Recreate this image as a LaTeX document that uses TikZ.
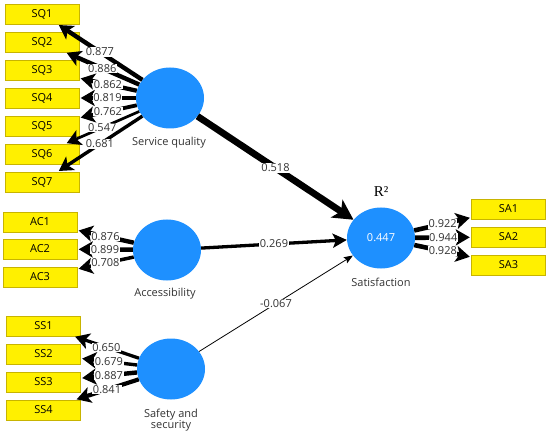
\documentclass[tikz,border=0pt]{standalone}
\usepackage{fontspec}
\setmainfont{Open Sans}
\newfontfamily\rfont{Liberation Serif}
\usetikzlibrary{arrows.meta,shapes.geometric}
\definecolor{boxy}{RGB}{255,240,0}
\definecolor{boxb}{RGB}{200,180,0}
\definecolor{lvc}{RGB}{30,144,255}
\definecolor{txt}{RGB}{50,50,50}
\begin{document}
\begin{tikzpicture}[x=1pt,y=-1pt,
  ind/.style={draw=boxb,fill=boxy,minimum width=74pt,minimum height=20pt,inner sep=0pt,font=\fontsize{11}{12}\selectfont},
  lat/.style={ellipse,fill=lvc,draw=none,minimum width=68pt,minimum height=61pt,inner sep=0pt},
  lab/.style={font=\fontsize{11}{12}\selectfont,text=txt,align=center},
  wl/.style={fill=white,inner sep=0.6pt,font=\fontsize{11}{12}\selectfont,text=txt},
  ar/.style={-{Stealth[length=14pt,width=16pt,inset=3.5pt]},line width=#1,shorten >=1.5pt}
]
\useasboundingbox (0,0) rectangle (550,436);
% indicators
\node[ind] (SQ1) at (42,14) {SQ1};
\node[ind] (SQ2) at (42,42) {SQ2};
\node[ind] (SQ3) at (42,70) {SQ3};
\node[ind] (SQ4) at (42,98) {SQ4};
\node[ind] (SQ5) at (42,126) {SQ5};
\node[ind] (SQ6) at (42,154) {SQ6};
\node[ind] (SQ7) at (42,182) {SQ7};
\node[ind] (AC1) at (40,222) {AC1};
\node[ind] (AC2) at (40,249) {AC2};
\node[ind] (AC3) at (40,277) {AC3};
\node[ind] (SS1) at (43.5,326) {SS1};
\node[ind] (SS2) at (43.5,354) {SS2};
\node[ind] (SS3) at (43.5,382) {SS3};
\node[ind] (SS4) at (43.5,410) {SS4};
\node[ind] (SA1) at (508.5,209) {SA1};
\node[ind] (SA2) at (508.5,237) {SA2};
\node[ind] (SA3) at (508.5,265) {SA3};
% latent variables
\node[lat] (sq) at (170,98) {};
\node[lat] (ac) at (167,250) {};
\node[lat] (ss) at (171,369) {};
\node[lat] (sat) at (381,238) {};
\node[lab] (sqL) at (169,143) {Service quality};
\node[lab] (acL) at (165,294) {Accessibility};
\node[lab] (ssL) at (171,420) {Safety and\\[-1pt]security};
\node[lab] (satL) at (381,282) {Satisfaction};
\node[font=\rfont\fontsize{15}{16}\selectfont] (r2) at (381,192) {R²};
\node[font=\fontsize{11}{12}\selectfont,text=white] (satv) at (sat) {0.447};
% outer loadings
\draw[ar=4.4pt] (sq) -- node[wl]{0.877} (SQ1);
\draw[ar=4.4pt] (sq) -- node[wl]{0.886} (SQ2);
\draw[ar=4.3pt] (sq) -- node[wl]{0.862} (SQ3);
\draw[ar=4.1pt] (sq) -- node[wl]{0.819} (SQ4);
\draw[ar=3.8pt] (sq) -- node[wl]{0.762} (SQ5);
\draw[ar=2.7pt] (sq) -- node[wl]{0.547} (SQ6);
\draw[ar=3.4pt] (sq) -- node[wl]{0.681} (SQ7);
\draw[ar=4.4pt] (ac) -- node[wl]{0.876} (AC1);
\draw[ar=4.5pt] (ac) -- node[wl]{0.899} (AC2);
\draw[ar=3.5pt] (ac) -- node[wl]{0.708} (AC3);
\draw[ar=3.3pt] (ss) -- node[wl]{0.650} (SS1);
\draw[ar=3.4pt] (ss) -- node[wl]{0.679} (SS2);
\draw[ar=4.4pt] (ss) -- node[wl]{0.887} (SS3);
\draw[ar=4.2pt] (ss) -- node[wl]{0.841} (SS4);
\draw[ar=4.6pt] (sat) -- node[wl]{0.922} (SA1);
\draw[ar=4.7pt] (sat) -- node[wl]{0.944} (SA2);
\draw[ar=4.6pt] (sat) -- node[wl]{0.928} (SA3);
% paths
\draw[-{Stealth[length=20pt,width=21pt,inset=5pt]},line width=6.7pt] (sq) -- node[wl]{0.518} (sat);
\draw[-{Stealth[length=14pt,width=14pt,inset=3pt]},line width=3.3pt] (ac) -- node[wl]{0.269} (sat);
\draw[-{Stealth[length=9pt,width=7pt,inset=1.5pt]},line width=0.8pt] (ss) -- node[wl]{-0.067} (sat);
\end{tikzpicture}
\end{document}
